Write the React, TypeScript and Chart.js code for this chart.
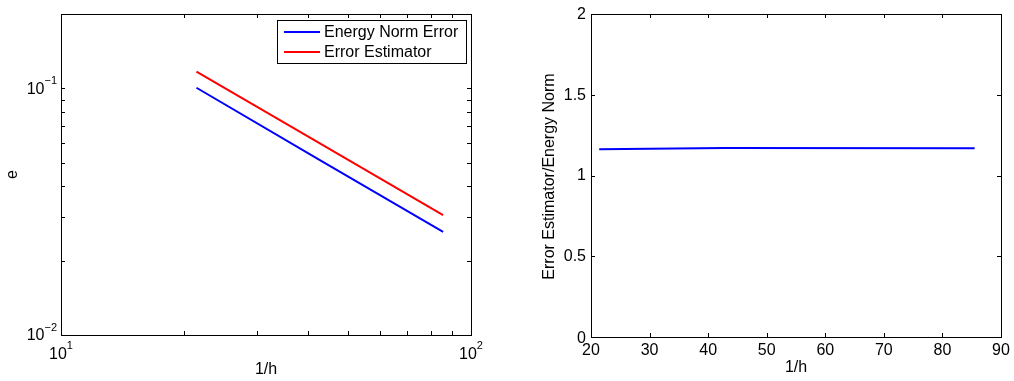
import React, { useEffect, useRef } from 'react';
import Chart from 'chart.js/auto';

// ---- data ----
const xValues = [21.4, 42.8, 85.5];
const energyNormError = [0.1005, 0.0511, 0.0262];
const errorEstimator = [0.1168, 0.0598, 0.0306];
const effectivityRatio = [1.162, 1.17, 1.168];

const seriesNames = ['Energy Norm Error', 'Error Estimator'];

// ---- ticks ----
const leftXMajor = [10, 100];
const leftXMajorLabels = [['10', '1'], ['10', '2']];
const leftXMinor = [20, 30, 40, 50, 60, 70, 80, 90];
const leftYMajor = [0.01, 0.1];
const leftYMajorLabels = [['10', '\u22122'], ['10', '\u22121']];
const leftYMinor = [0.02, 0.03, 0.04, 0.05, 0.06, 0.07, 0.08, 0.09];
const rightXTicks = [20, 30, 40, 50, 60, 70, 80, 90];
const rightXTickLabels = ['20', '30', '40', '50', '60', '70', '80', '90'];
const rightYTicks = [0, 0.5, 1, 1.5, 2];
const rightYTickLabels = ['0', '0.5', '1', '1.5', '2'];

const FONT = '"Liberation Sans", Arial, Helvetica, sans-serif';
const TICK_LEN = 4;

function crisp(v: number) {
  return Math.round(v) + 0.5;
}

function drawBoxAndTicks(chart: any, xt: number[], yt: number[]) {
  const { ctx, chartArea: a } = chart;
  const xs = chart.scales.x;
  const ys = chart.scales.y;
  ctx.save();
  ctx.strokeStyle = '#000';
  ctx.lineWidth = 1;
  ctx.beginPath();
  for (const v of xt) {
    const p = crisp(xs.getPixelForValue(v));
    ctx.moveTo(p, a.bottom);
    ctx.lineTo(p, a.bottom - TICK_LEN);
    ctx.moveTo(p, a.top);
    ctx.lineTo(p, a.top + TICK_LEN);
  }
  for (const v of yt) {
    const p = crisp(ys.getPixelForValue(v));
    ctx.moveTo(a.left, p);
    ctx.lineTo(a.left + TICK_LEN, p);
    ctx.moveTo(a.right, p);
    ctx.lineTo(a.right - TICK_LEN, p);
  }
  ctx.stroke();
  ctx.strokeRect(crisp(a.left), crisp(a.top), Math.round(a.right - a.left), Math.round(a.bottom - a.top));
  ctx.restore();
}

function drawRotated(ctx: CanvasRenderingContext2D, text: string, x: number, y: number) {
  ctx.save();
  ctx.translate(x, y);
  ctx.rotate(-Math.PI / 2);
  ctx.textAlign = 'center';
  ctx.textBaseline = 'middle';
  ctx.fillText(text, 0, 0);
  ctx.restore();
}

const leftPlugin = {
  id: 'leftDecor',
  afterDraw(chart: any) {
    const { ctx, chartArea: a } = chart;
    const xs = chart.scales.x;
    const ys = chart.scales.y;
    drawBoxAndTicks(chart, [...leftXMajor, ...leftXMinor], [...leftYMajor, ...leftYMinor]);
    ctx.save();
    ctx.fillStyle = '#000';
    ctx.textBaseline = 'middle';
    // y tick labels
    leftYMajor.forEach((v, i) => {
      const [base, exp] = leftYMajorLabels[i];
      const py = ys.getPixelForValue(v);
      ctx.font = `11px ${FONT}`;
      const ew = ctx.measureText(exp).width;
      const xr = a.left - 4;
      ctx.textAlign = 'left';
      ctx.fillText(exp, xr - ew, py - 7);
      ctx.font = `16px ${FONT}`;
      ctx.textAlign = 'right';
      ctx.fillText(base, xr - ew, py + 1);
    });
    // x tick labels
    leftXMajor.forEach((v, i) => {
      const [base, exp] = leftXMajorLabels[i];
      const px = xs.getPixelForValue(v);
      ctx.font = `16px ${FONT}`;
      const bw = ctx.measureText(base).width;
      ctx.font = `11px ${FONT}`;
      const ew = ctx.measureText(exp).width;
      const x0 = px - (bw + ew) / 2;
      ctx.textAlign = 'left';
      ctx.fillText(exp, x0 + bw, a.bottom + 11);
      ctx.font = `16px ${FONT}`;
      ctx.fillText(base, x0, a.bottom + 20);
    });
    // titles
    ctx.font = `16px ${FONT}`;
    ctx.textAlign = 'center';
    ctx.fillText('1/h', (a.left + a.right) / 2, a.bottom + 35);
    drawRotated(ctx, 'e', a.left - 48, (a.top + a.bottom) / 2);
    // legend
    const bx = a.right - 194;
    const by = a.top + 6;
    const bw = 189;
    const bh = 43;
    ctx.fillStyle = '#fff';
    ctx.fillRect(bx, by, bw, bh);
    ctx.strokeStyle = '#000';
    ctx.lineWidth = 1;
    ctx.strokeRect(crisp(bx), crisp(by), bw, bh);
    const colors = ['#0000ff', '#ff0000'];
    seriesNames.forEach((name, i) => {
      const y = by + 12 + i * 20;
      ctx.strokeStyle = colors[i];
      ctx.lineWidth = 2;
      ctx.beginPath();
      ctx.moveTo(bx + 7, y);
      ctx.lineTo(bx + 43, y);
      ctx.stroke();
      ctx.fillStyle = '#000';
      ctx.font = `16px ${FONT}`;
      ctx.textAlign = 'left';
      ctx.textBaseline = 'middle';
      ctx.fillText(name, bx + 47, y + 0.5);
    });
    ctx.restore();
  },
};

const rightPlugin = {
  id: 'rightDecor',
  afterDraw(chart: any) {
    const { ctx, chartArea: a } = chart;
    const xs = chart.scales.x;
    const ys = chart.scales.y;
    drawBoxAndTicks(chart, rightXTicks, rightYTicks);
    ctx.save();
    ctx.fillStyle = '#000';
    ctx.font = `16px ${FONT}`;
    ctx.textBaseline = 'middle';
    ctx.textAlign = 'center';
    rightXTicks.forEach((v, i) => {
      ctx.fillText(rightXTickLabels[i], xs.getPixelForValue(v), a.bottom + 14);
    });
    ctx.textAlign = 'right';
    rightYTicks.forEach((v, i) => {
      ctx.fillText(rightYTickLabels[i], a.left - 5, ys.getPixelForValue(v) + (v === 0 ? 1.5 : 0.5));
    });
    ctx.textAlign = 'center';
    ctx.fillText('1/h', (a.left + a.right) / 2, a.bottom + 31);
    drawRotated(ctx, 'Error Estimator/Energy Norm', a.left - 41, (a.top + a.bottom) / 2 + 1);
    ctx.restore();
  },
};

function hiddenScale(extra: any, fitW?: number, fitH?: number) {
  return {
    ...extra,
    grid: { display: false },
    border: { display: false },
    ticks: { display: false },
    title: { display: false },
    afterFit(scale: any) {
      if (fitW !== undefined) scale.width = fitW;
      if (fitH !== undefined) scale.height = fitH;
    },
  };
}

export default function App() {
  const leftRef = useRef<HTMLCanvasElement | null>(null);
  const rightRef = useRef<HTMLCanvasElement | null>(null);

  useEffect(() => {
    const left = new Chart(leftRef.current as HTMLCanvasElement, {
      type: 'line',
      data: {
        datasets: [
          {
            label: seriesNames[0],
            data: xValues.map((x, i) => ({ x, y: energyNormError[i] })),
            borderColor: '#0000ff',
            borderWidth: 2,
            pointRadius: 0,
            fill: false,
            tension: 0,
          },
          {
            label: seriesNames[1],
            data: xValues.map((x, i) => ({ x, y: errorEstimator[i] })),
            borderColor: '#ff0000',
            borderWidth: 2,
            pointRadius: 0,
            fill: false,
            tension: 0,
          },
        ],
      },
      options: {
        responsive: false,
        animation: false,
        devicePixelRatio: 1,
        layout: { padding: { left: 0, top: 14, right: 36, bottom: 0 } },
        plugins: { legend: { display: false }, tooltip: { enabled: false } },
        events: [],
        scales: {
          x: hiddenScale({ type: 'logarithmic', min: 10, max: 100 }, undefined, 46),
          y: hiddenScale({ type: 'logarithmic', min: 0.01, max: 0.2 }, 61, undefined),
        },
      },
      plugins: [leftPlugin],
    } as any);

    const right = new Chart(rightRef.current as HTMLCanvasElement, {
      type: 'line',
      data: {
        datasets: [
          {
            label: 'Error Estimator/Energy Norm',
            data: xValues.map((x, i) => ({ x, y: effectivityRatio[i] })),
            borderColor: '#0000ff',
            borderWidth: 2,
            pointRadius: 0,
            fill: false,
            tension: 0,
          },
        ],
      },
      options: {
        responsive: false,
        animation: false,
        devicePixelRatio: 1,
        layout: { padding: { left: 0, top: 14, right: 13, bottom: 0 } },
        plugins: { legend: { display: false }, tooltip: { enabled: false } },
        events: [],
        scales: {
          x: hiddenScale({ type: 'linear', min: 20, max: 90 }, undefined, 44),
          y: hiddenScale({ type: 'linear', min: 0, max: 2 }, 84, undefined),
        },
      },
      plugins: [rightPlugin],
    } as any);

    return () => {
      left.destroy();
      right.destroy();
    };
  }, []);

  return (
    <div style={{ position: 'fixed', left: 0, top: 0, width: 1014, height: 381, background: '#fff' }}>
      <canvas ref={leftRef} width={507} height={381} style={{ position: 'absolute', left: 0, top: 0 }} />
      <canvas ref={rightRef} width={507} height={381} style={{ position: 'absolute', left: 507, top: 0 }} />
    </div>
  );
}
